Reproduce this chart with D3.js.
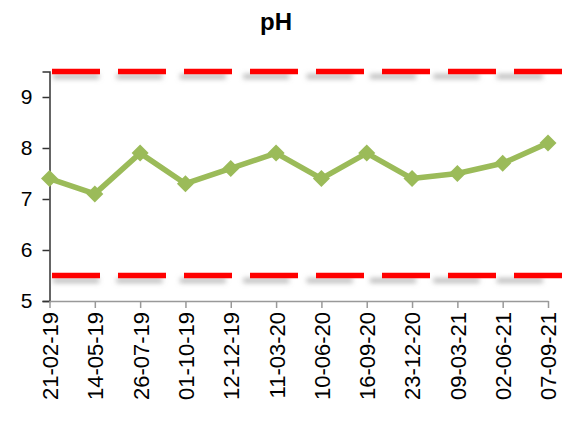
<!DOCTYPE html>
<html>
<head>
<meta charset="utf-8">
<script src="https://cdn.jsdelivr.net/npm/d3@7"></script>
<style>
  body { margin: 0; background: #fff; }
  text { font-family: "Liberation Sans", Arial, sans-serif; }
</style>
</head>
<body>
<svg class="chart"></svg>
<script>
const width = 570,
  height = 425;

// data
const dates = ["21-02-19", "14-05-19", "26-07-19", "01-10-19", "12-12-19", "11-03-20",
  "10-06-20", "16-09-20", "23-12-20", "09-03-21", "02-06-21", "07-09-21"];
const phValues = [7.4, 7.1, 7.9, 7.3, 7.6, 7.9, 7.4, 7.9, 7.4, 7.5, 7.7, 8.1];
const limits = [9.5, 5.5];
const yTicks = [5, 6, 7, 8, 9];

const chart = d3.select(".chart")
  .attr("width", width)
  .attr("height", height);

const defs = chart.append("defs");
defs.append("filter").attr("id", "blur")
  .attr("filterUnits", "userSpaceOnUse")
  .attr("x", 0).attr("y", 0).attr("width", width).attr("height", height)
  .append("feGaussianBlur").attr("stdDeviation", 2.4);

let x = d3.scalePoint()
  .domain(dates)
  .range([49.5, 548]);

let y = d3.scaleLinear()
  .domain([5, 9.5])
  .range([301, 71.5]);

// title
chart.append("text")
  .attr("x", 276)
  .attr("y", 30)
  .attr("text-anchor", "middle")
  .style("font-weight", "bold")
  .style("font-size", "24px")
  .text("pH");

// y axis
let yAxis = chart.append("g")
  .attr("transform", `translate(${x.range()[0]},0)`)
  .call(d3.axisLeft(y).tickValues(yTicks).tickFormat(d3.format("d")).tickSize(7).tickPadding(10));
yAxis.select(".domain").attr("stroke", "#333").attr("stroke-width", 1.5);
yAxis.selectAll(".tick line").attr("stroke", "#333").attr("stroke-width", 1.5);
yAxis.selectAll("text")
  .style("font-size", "21px")
  .attr("fill", "#000")
  .style("font-family", "'Liberation Sans', Arial, sans-serif");

// x axis
let xAxis = chart.append("g")
  .attr("transform", `translate(0,${y(5)})`)
  .call(d3.axisBottom(x).tickSize(7).tickSizeOuter(0).tickPadding(8));
xAxis.select(".domain").attr("stroke", "#999").attr("stroke-width", 1.5);
xAxis.selectAll(".tick line").attr("stroke", "#999").attr("stroke-width", 1.5);
xAxis.selectAll("text")
  .style("font-size", "22px")
  .attr("fill", "#000")
  .style("font-family", "'Liberation Sans', Arial, sans-serif")
  .attr("transform", "rotate(-90)")
  .attr("text-anchor", "end")
  .attr("x", -11)
  .attr("y", 0)
  .attr("dy", "0.36em");

// limit lines with a soft shadow
const x0 = x(dates[0]) + 2.5,
  x1 = x(dates[dates.length - 1]) + 14;

chart.append("g").selectAll("line.shadow")
  .data(limits)
  .enter().append("line")
  .attr("class", "shadow")
  .attr("x1", x0 + 1)
  .attr("x2", x0 + 1 + (x1 - x0) * 0.961)
  .attr("y1", d => y(d) + 5)
  .attr("y2", d => y(d) + 5)
  .attr("stroke", "#a0a0a0")
  .attr("stroke-opacity", 0.7)
  .attr("stroke-width", 5)
  .attr("stroke-dasharray", "46.1,17.3")
  .attr("filter", "url(#blur)");

chart.append("g").selectAll("line.limit")
  .data(limits)
  .enter().append("line")
  .attr("class", "limit")
  .attr("x1", x0)
  .attr("x2", x1)
  .attr("y1", d => y(d))
  .attr("y2", d => y(d))
  .attr("stroke", "#ff0000")
  .attr("stroke-width", 5.5)
  .attr("stroke-dasharray", "48,18");

// pH series
let line = d3.line()
  .x((d, i) => x(dates[i]))
  .y(d => y(d));

chart.append("path")
  .datum(phValues)
  .attr("fill", "none")
  .attr("stroke", "#9bbb59")
  .attr("stroke-width", 5.5)
  .attr("stroke-linejoin", "round")
  .attr("d", line);

chart.append("g").selectAll("path.marker")
  .data(phValues)
  .enter().append("path")
  .attr("class", "marker")
  .attr("d", d3.symbol().type(d3.symbolDiamond2).size(185))
  .attr("fill", "#9bbb59")
  .attr("transform", (d, i) => `translate(${x(dates[i])},${y(d)})`);
</script>
</body>
</html>
